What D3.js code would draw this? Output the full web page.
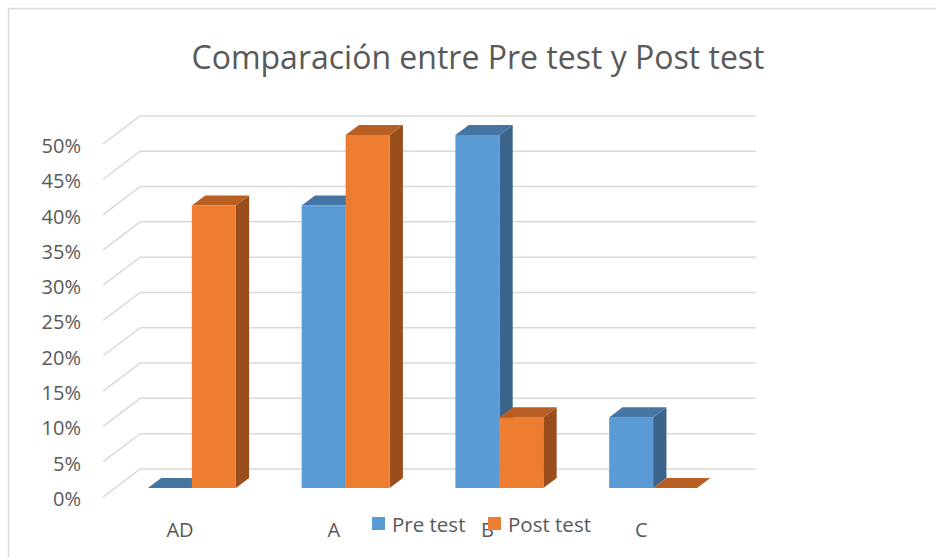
<!DOCTYPE html>
<html>
<head>
<meta charset="utf-8">
<script src="https://cdn.jsdelivr.net/npm/d3@7"></script>
<style>
  body { margin: 0; background: #fff; }
  text { font-family: "Open Sans", "Noto Sans", sans-serif; fill: #595959; }
</style>
</head>
<body>
<script>
// Data
var categories = ["AD", "A", "B", "C"];
var seriesNames = ["Pre test", "Post test"];
var preTest  = [0.00, 0.40, 0.50, 0.10];
var postTest = [0.40, 0.50, 0.10, 0.00];
var tickValues = [0, 0.05, 0.10, 0.15, 0.20, 0.25, 0.30, 0.35, 0.40, 0.45, 0.50];

// Colours: front, top, side
var faces = {
  "Pre test":  { front: "#5b9bd5", top: "#4575a3", side: "#3a6489" },
  "Post test": { front: "#ed7d31", top: "#b95f23", side: "#9a4e1c" }
};

var width = 936, height = 557;

// Depth geometry (pseudo 3D)
var wallDx = 37, wallDy = -28;      // full depth, front edge -> back wall
var barFront = 0.32, barBack = 0.68; // bar front / back as fraction of depth
var bdx = wallDx * (barBack - barFront), bdy = wallDy * (barBack - barFront);

var svg = d3.select("body").append("svg")
    .attr("width", width)
    .attr("height", height);

// Chart area border
svg.append("rect")
    .attr("x", 8.5).attr("y", 8.5)
    .attr("width", 940).attr("height", 560)
    .attr("fill", "none")
    .attr("stroke", "#d9d9d9")
    .attr("stroke-width", 1.5);

// Title
svg.append("text")
    .attr("x", 478).attr("y", 69)
    .attr("text-anchor", "middle")
    .style("font-size", "32px")
    .text("Comparación entre Pre test y Post test");

// y scale measured at the front plane of the bars
var y = d3.scaleLinear().domain([0, 0.5]).range([488, 135]);

// x scale at the bars' front plane
var x0 = d3.scaleBand().domain(categories).range([115, 730])
    .paddingInner(0.428).paddingOuter(0.214);
var x1 = d3.scaleBand().domain(seriesNames).range([0, x0.bandwidth()]).padding(0);

var frontLeft = x0.range()[0] - wallDx * barFront;   // front edge of floor
var backLeft = frontLeft + wallDx;
var backRight = 756;

// Gridlines: diagonal on the side wall + horizontal on back wall
var grid = svg.append("g")
    .attr("fill", "none")
    .attr("stroke", "#d9d9d9")
    .attr("stroke-width", 1.5);

tickValues.forEach(function(v) {
  var yf = y(v) - wallDy * barFront;   // front end
  var yb = yf + wallDy;                // back wall
  grid.append("path")
      .attr("d", "M" + frontLeft + "," + yf + "L" + backLeft + "," + yb + "L" + backRight + "," + yb);
});

// Tick labels
svg.append("g").selectAll("text")
  .data(tickValues)
  .join("text")
    .attr("x", 81)
    .attr("y", function(d) { return y(d) - wallDy * barFront + 9; })
    .attr("text-anchor", "end")
    .style("font-size", "20px")
    .text(d3.format(".0%"));

// Bars
var rows = categories.map(function(c, i) {
  return { cat: c, values: [
    { name: "Pre test", value: preTest[i] },
    { name: "Post test", value: postTest[i] }
  ]};
});

function drawBar(g, xl, w, v, col) {
  var xr = xl + w, yt = y(v), yb = y(0);
  // side face
  g.append("path")
      .attr("d", "M" + xr + "," + yt + "L" + (xr + bdx) + "," + (yt + bdy) +
                 "L" + (xr + bdx) + "," + (yb + bdy) + "L" + xr + "," + yb + "Z")
      .attr("fill", col.side);
  // front face
  if (v > 0) {
    g.append("rect")
        .attr("x", xl).attr("y", yt)
        .attr("width", w).attr("height", yb - yt)
        .attr("fill", col.front);
  }
  // top face
  g.append("path")
      .attr("d", "M" + xl + "," + yt + "L" + xr + "," + yt +
                 "L" + (xr + bdx) + "," + (yt + bdy) + "L" + (xl + bdx) + "," + (yt + bdy) + "Z")
      .attr("fill", col.top);
}

var bars = svg.append("g");
rows.forEach(function(r) {
  r.values.forEach(function(s) {
    drawBar(bars, x0(r.cat) + x1(s.name), x1.bandwidth(), s.value, faces[s.name]);
  });
});

// Category labels (front edge of the floor)
svg.append("g").selectAll("text")
  .data(categories)
  .join("text")
    .attr("x", function(d) { return x0(d) + x0.bandwidth() / 2 - wallDx * barFront; })
    .attr("y", 537)
    .attr("text-anchor", "middle")
    .style("font-size", "20px")
    .text(function(d) { return d; });

// Legend
var legend = svg.append("g");
var legendX = [372, 488];
seriesNames.forEach(function(name, i) {
  legend.append("rect")
      .attr("x", legendX[i]).attr("y", 517)
      .attr("width", 13).attr("height", 13)
      .attr("fill", faces[name].front);
  legend.append("text")
      .attr("x", legendX[i] + 20).attr("y", 532)
      .style("font-size", "20.5px")
      .text(name);
});
</script>
</body>
</html>
